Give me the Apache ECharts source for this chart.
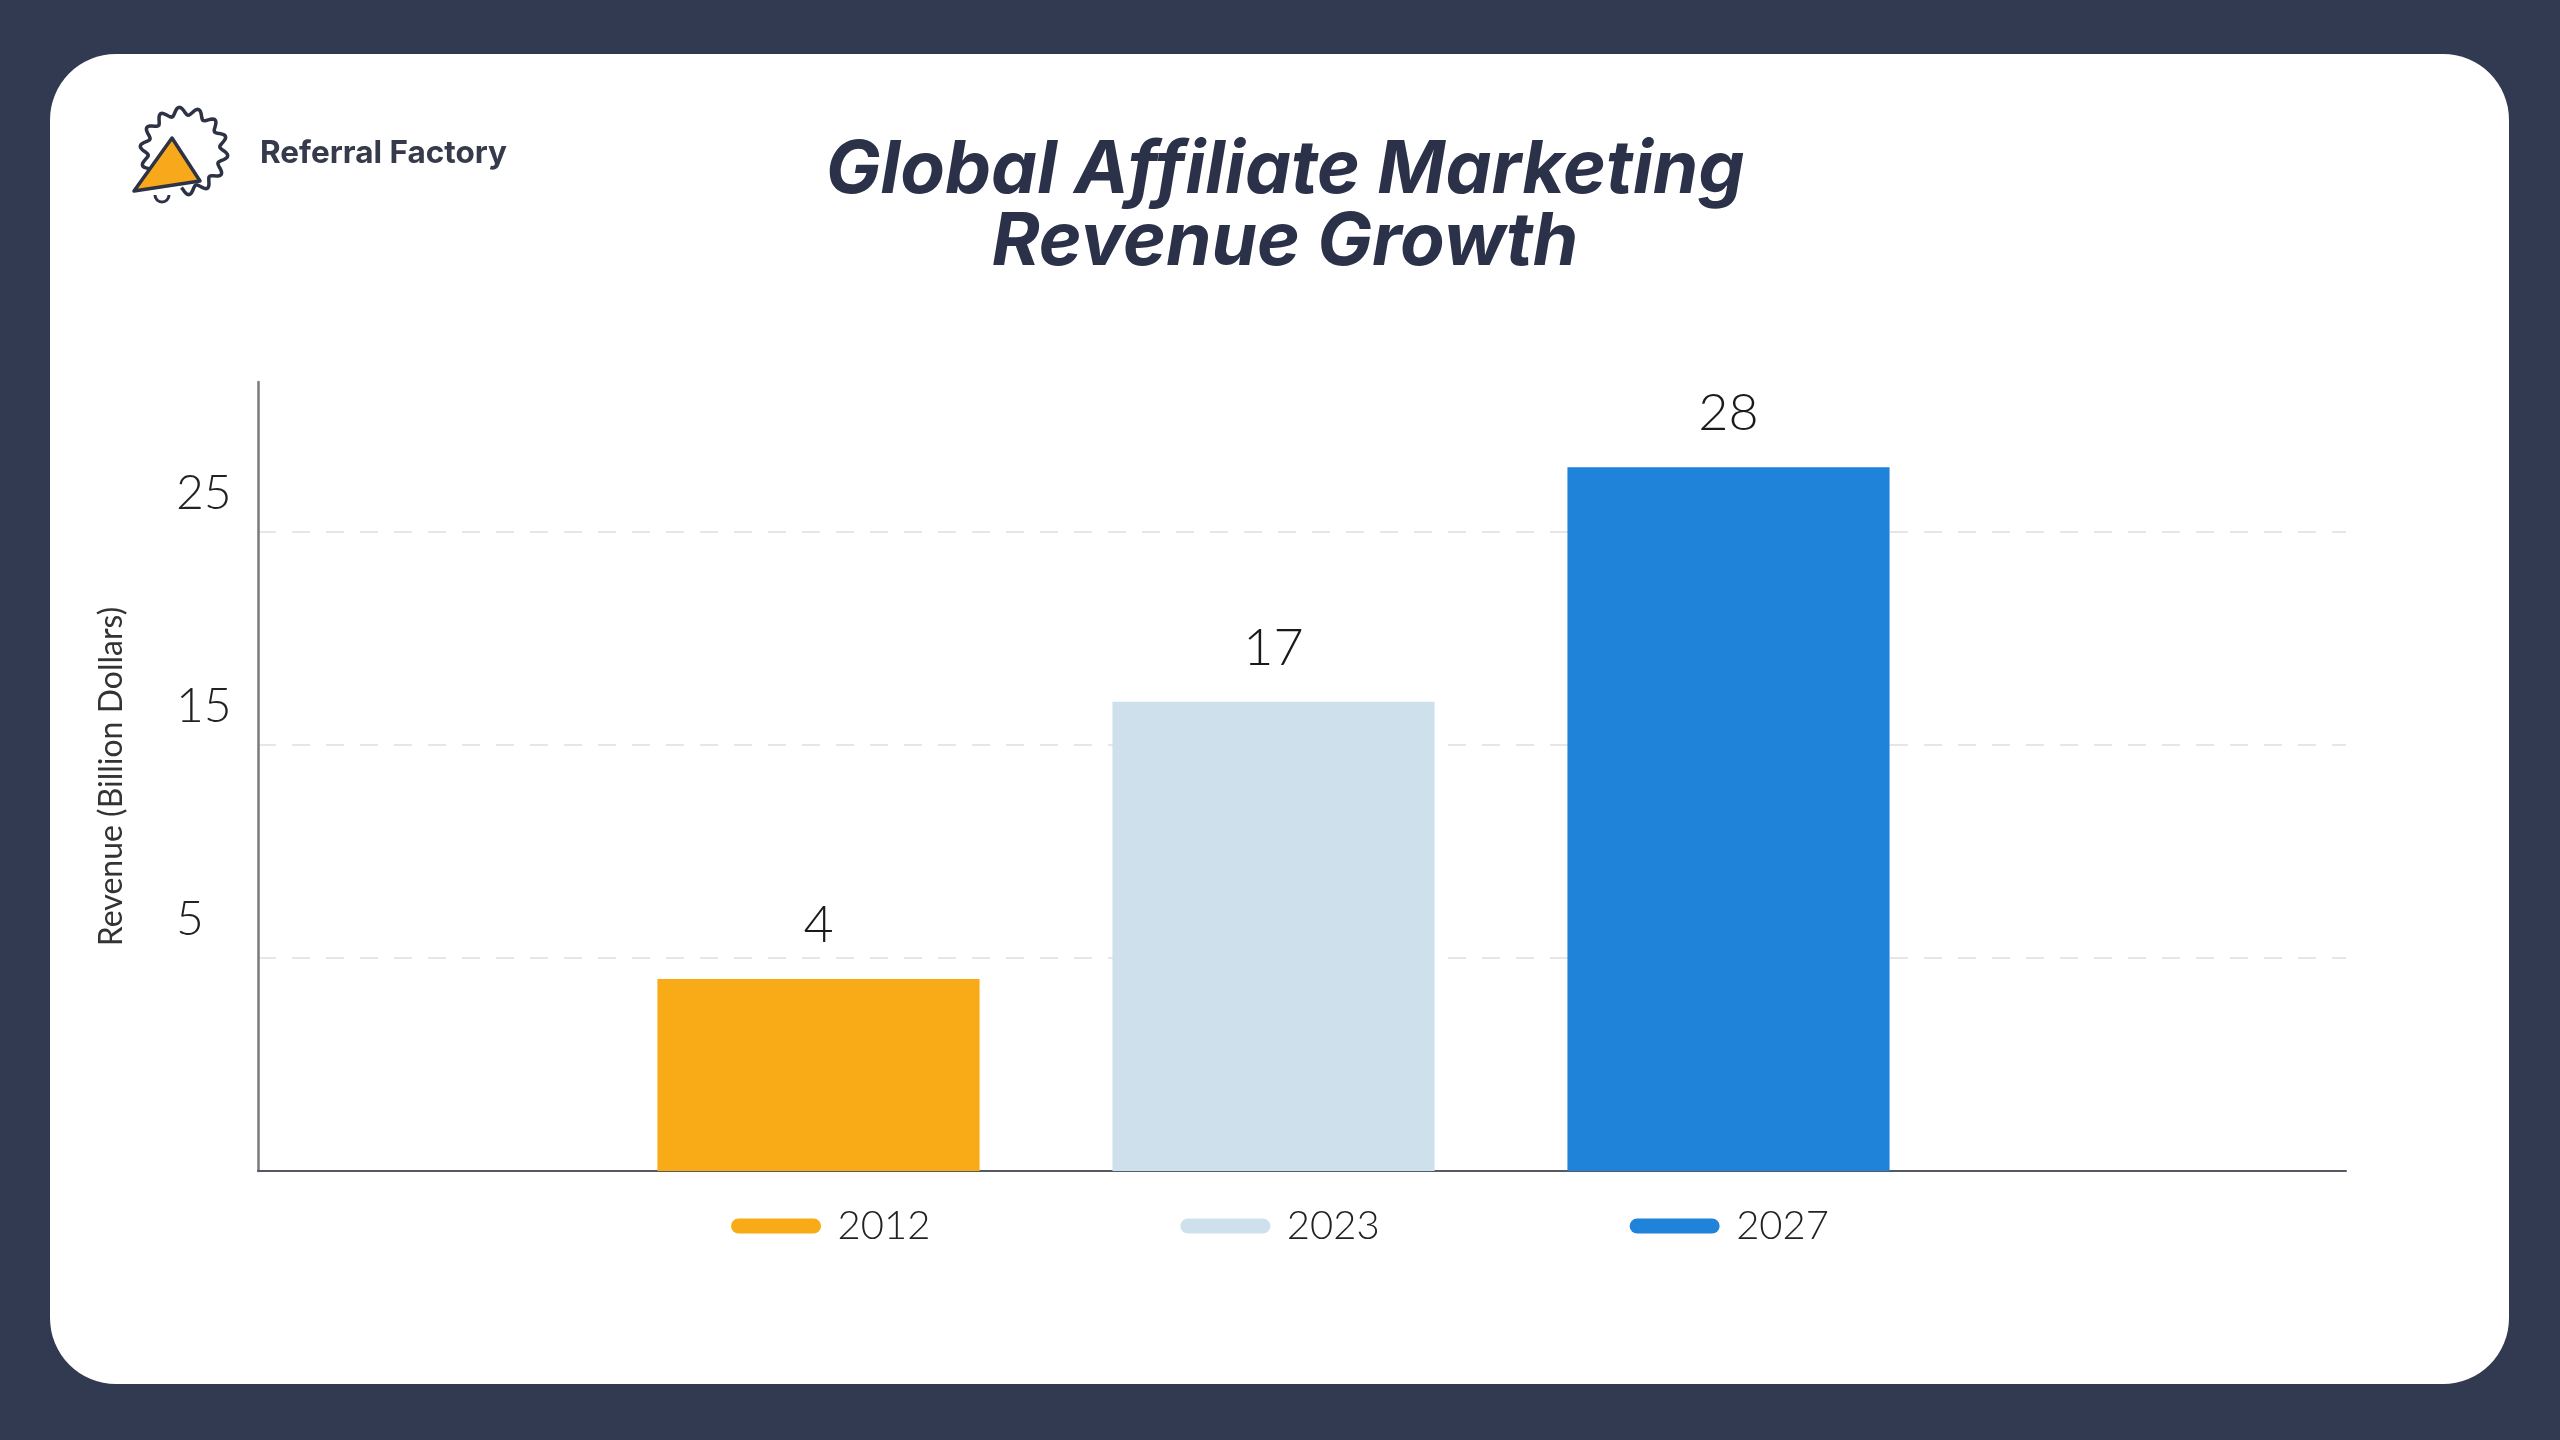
<!DOCTYPE html>
<html><head><meta charset="utf-8">
<script src="https://cdn.jsdelivr.net/npm/echarts@6/dist/echarts.min.js"></script>
<style>html,body{margin:0;padding:0;background:#323a51;}#c{width:2560px;height:1440px;}</style>
</head><body><div id="c"></div>
<script>
// ---- data ----
const years = ['2012', '2023', '2027'];
const revenue = [4, 17, 28];
const barColors = ['#F8AA17', '#CEE0EC', '#1E83D9'];
const yMin = -5;
const yMax = 32;
const yStep = 10;
const titleLines = ['Global Affiliate Marketing', 'Revenue Growth'];
const yAxisName = 'Revenue (Billion Dollars)';
const brand = 'Referral Factory';

// ---- logo wave (decoration) ----
const wavePts = [];
const cx = 184, cy = 151, R = 40, amp = 4, waves = 14;
for (let a = 150; a <= 455; a += 2) {
  const t = a * Math.PI / 180;
  const r = R + amp * Math.sin(t * waves);
  wavePts.push([cx + r * Math.cos(t), cy + r * Math.sin(t)]);
}

const chart = echarts.init(document.getElementById('c'), null, {renderer: 'canvas'});
const pill = 'path://M5,0 L55,0 A5,5 0 0 1 55,10 L5,10 A5,5 0 0 1 5,0 Z';

const option = {
  backgroundColor: '#323a51',
  animation: false,
  title: {
    text: titleLines.join('\n'),
    left: '50%', textAlign: 'center', top: 130,
    textStyle: {fontFamily: 'Inter', fontSize: 73, fontWeight: 700, fontStyle: 'italic', color: '#2b3148', lineHeight: 72}
  },
  legend: {
    data: years, left: 'center', top: 1201,
    icon: pill, itemWidth: 91, itemHeight: 15, itemGap: 250,
    textStyle: {fontFamily: 'Lato', fontSize: 40, fontWeight: 300, color: '#222', padding: [0, 0, 0, 11]}
  },
  graphic: [
    {type: 'rect', z: -10, shape: {x: 50, y: 54, width: 2459, height: 1330, r: 66}, style: {fill: '#ffffff'}},
    {type: 'polyline', z: 10, shape: {points: wavePts}, style: {stroke: '#2d3245', lineWidth: 3.5, fill: null}},
    {type: 'arc', z: 10, shape: {cx: 162, cy: 195, r: 7, startAngle: 0, endAngle: Math.PI}, style: {stroke: '#2d3245', lineWidth: 3, fill: null}},
    {type: 'polygon', z: 11, shape: {points: [[172, 138], [134, 191], [200, 181]]}, style: {fill: '#F7A81B', stroke: '#2d3245', lineWidth: 3.5, lineJoin: 'round'}},
    {type: 'text', z: 10, x: 260, y: 154, style: {text: brand, fontFamily: 'Inter', fontSize: 31.5, fontWeight: 700, fill: '#363b4c', verticalAlign: 'middle'}}
  ],
  grid: [
    {left: 258, right: 214, top: 382, bottom: 269},
    {left: 591, right: 604, top: 382, bottom: 269}
  ],
  xAxis: [
    {type: 'category', gridIndex: 0, data: [''], axisTick: {show: false}, axisLabel: {show: false},
     axisLine: {onZero: false, lineStyle: {color: '#555a63', width: 2}}},
    {type: 'category', gridIndex: 1, data: years, show: false}
  ],
  yAxis: [
    {type: 'value', gridIndex: 0, min: yMin, max: yMax, interval: yStep,
     name: yAxisName, nameLocation: 'middle', nameGap: 130, nameRotate: 90,
     nameTextStyle: {fontFamily: 'Lato', fontSize: 32, fontWeight: 400, color: '#333'},
     axisLine: {show: true, onZero: false, lineStyle: {color: '#7a7a7a', width: 2.5}},
     axisTick: {show: false},
     axisLabel: {showMinLabel: false, showMaxLabel: false, align: 'left', margin: 82, verticalAlign: 'bottom',
       padding: [0, 0, 14, 0], fontFamily: 'Lato', fontSize: 48, fontWeight: 300, color: '#222'},
     splitLine: {show: true, showMinLine: false, showMaxLine: false, lineStyle: {color: '#e6e6e6', width: 2, type: [18, 16]}}},
    {type: 'value', gridIndex: 1, min: yMin, max: yMax, interval: yStep, show: false, splitLine: {show: false}}
  ],
  series: years.map((y, i) => ({
    type: 'custom', name: y, coordinateSystem: 'cartesian2d', xAxisIndex: 1, yAxisIndex: 1,
    itemStyle: {color: barColors[i]},
    encode: {x: 0, y: 1},
    data: [[y, revenue[i]]],
    renderItem: function (params, api) {
      const top = api.coord([api.value(0), api.value(1)]);
      const base = api.coord([api.value(0), yMin]);
      const w = api.size([1, 0])[0] * 0.708;
      return {
        type: 'rect',
        shape: {x: top[0] - w / 2, y: top[1], width: w, height: base[1] - top[1]},
        style: {fill: api.visual('color')},
        textContent: {style: {text: String(api.value(1)), fontFamily: 'Lato', fontSize: 52, fontWeight: 300, fill: '#1a1a1a'}},
        textConfig: {position: 'top', distance: 28}
      };
    }
  }))
};
chart.setOption(option);
</script></body></html>
